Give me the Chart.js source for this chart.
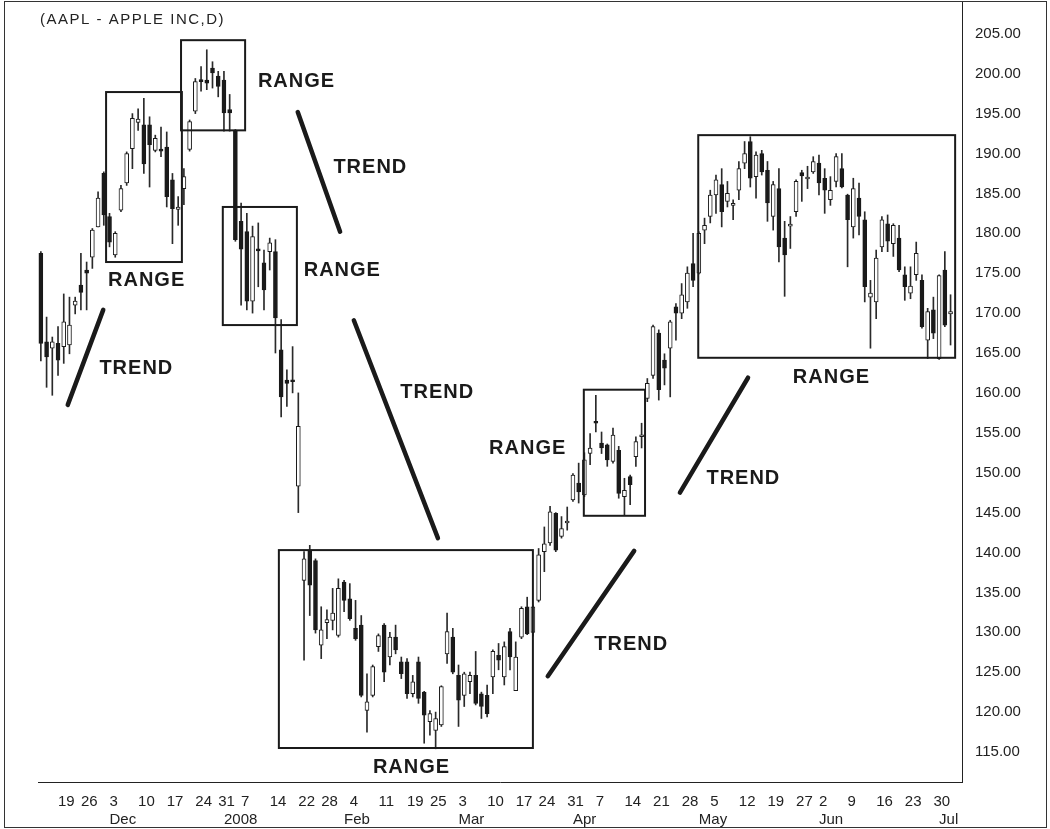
<!DOCTYPE html>
<html>
<head>
<meta charset="utf-8">
<script src="https://cdn.jsdelivr.net/npm/chart.js@4/dist/chart.umd.min.js"></script>
<style>
  html, body { margin: 0; padding: 0; background: #fff; }
  #wrap { width: 1050px; height: 829px; }
</style>
</head>
<body>
<div id="wrap"><canvas id="aaplChart" width="1050" height="829"></canvas></div>
<script>
// Trading days, AAPL daily (Nov 14 2007 - Jul 3 2008)
const dates = [
  '2007-11-14','2007-11-15','2007-11-16','2007-11-19','2007-11-20','2007-11-21','2007-11-23','2007-11-26','2007-11-27','2007-11-28','2007-11-29','2007-11-30',
  '2007-12-03','2007-12-04','2007-12-05','2007-12-06','2007-12-07','2007-12-10','2007-12-11','2007-12-12','2007-12-13','2007-12-14',
  '2007-12-17','2007-12-18','2007-12-19','2007-12-20','2007-12-21','2007-12-24','2007-12-26','2007-12-27','2007-12-28','2007-12-31',
  '2008-01-02','2008-01-03','2008-01-04','2008-01-07','2008-01-08','2008-01-09','2008-01-10','2008-01-11','2008-01-14','2008-01-15',
  '2008-01-16','2008-01-17','2008-01-18','2008-01-22','2008-01-23','2008-01-24','2008-01-25','2008-01-28','2008-01-29','2008-01-30','2008-01-31',
  '2008-02-01','2008-02-04','2008-02-05','2008-02-06','2008-02-07','2008-02-08','2008-02-11','2008-02-12','2008-02-13','2008-02-14',
  '2008-02-15','2008-02-19','2008-02-20','2008-02-21','2008-02-22','2008-02-25','2008-02-26','2008-02-27','2008-02-28','2008-02-29',
  '2008-03-03','2008-03-04','2008-03-05','2008-03-06','2008-03-07','2008-03-10','2008-03-11','2008-03-12','2008-03-13','2008-03-14',
  '2008-03-17','2008-03-18','2008-03-19','2008-03-20','2008-03-24','2008-03-25','2008-03-26','2008-03-27','2008-03-28','2008-03-31',
  '2008-04-01','2008-04-02','2008-04-03','2008-04-04','2008-04-07','2008-04-08','2008-04-09','2008-04-10','2008-04-11','2008-04-14',
  '2008-04-15','2008-04-16','2008-04-17','2008-04-18','2008-04-21','2008-04-22','2008-04-23','2008-04-24','2008-04-25','2008-04-28',
  '2008-04-29','2008-04-30','2008-05-01','2008-05-02','2008-05-05','2008-05-06','2008-05-07','2008-05-08','2008-05-09','2008-05-12',
  '2008-05-13','2008-05-14','2008-05-15','2008-05-16','2008-05-19','2008-05-20','2008-05-21','2008-05-22','2008-05-23','2008-05-27',
  '2008-05-28','2008-05-29','2008-05-30','2008-06-02','2008-06-03','2008-06-04','2008-06-05','2008-06-06','2008-06-09','2008-06-10',
  '2008-06-11','2008-06-12','2008-06-13','2008-06-16','2008-06-17','2008-06-18','2008-06-19','2008-06-20','2008-06-23','2008-06-24',
  '2008-06-25','2008-06-26','2008-06-27','2008-06-30','2008-07-01','2008-07-02','2008-07-03'
];

const opens = [
  177.5,166.4,165.6,166.2,165.8,166.0,171.0,173.5,175.4,177.0,180.8,187.5,
  182.1,177.3,182.9,186.3,190.6,193.9,193.6,193.6,190.4,190.5,
  190.8,186.7,183.0,185.6,190.5,195.3,199.2,199.2,200.7,199.7,
  199.2,195.5,192.8,181.5,180.2,171.5,178.0,176.3,177.7,177.7,
  165.4,161.6,161.6,148.3,136.5,140.3,139.0,128.4,131.2,131.5,129.6,
  136.3,134.2,130.5,130.9,120.2,122.1,128.2,130.9,126.9,129.4,
  126.3,126.3,122.3,126.3,122.5,118.8,117.7,118.4,127.3,129.4,
  124.6,122.1,123.8,124.6,122.3,122.1,124.4,127.1,124.4,130.1,
  122.7,129.4,133.2,130.0,134.0,140.1,141.2,144.9,142.0,143.7,
  146.6,148.7,147.2,152.4,156.4,153.7,153.5,151.4,152.8,147.0,
  149.5,152.0,154.5,159.3,162.2,167.5,164.1,165.6,170.8,170.0,
  171.4,176.2,175.0,180.4,182.1,184.8,186.1,184.0,183.5,185.4,
  188.8,191.5,187.1,190.0,187.9,182.1,185.6,179.4,180.9,182.7,
  187.6,186.8,187.7,188.8,186.9,184.2,186.5,188.1,184.8,180.8,
  184.4,181.7,172.0,171.4,178.3,181.2,178.7,179.4,174.8,172.5,
  174.8,174.1,166.6,170.4,164.3,175.4,169.9
];
const highs = [
  177.7,169.5,167.0,168.3,172.4,172.0,172.0,177.5,176.4,180.6,185.2,187.7,
  182.5,180.2,186.0,190.2,195.0,195.6,196.9,194.6,192.3,193.3,
  192.7,187.5,184.6,188.1,194.2,199.4,200.9,203.0,201.5,200.3,
  200.3,197.4,193.0,183.8,182.5,180.9,181.3,177.9,179.4,179.2,
  169.2,162.9,165.8,160.0,140.1,140.9,139.2,133.2,132.8,135.5,136.7,
  136.5,136.1,134.0,132.1,124.8,125.9,129.8,131.1,130.0,130.9,
  126.9,126.7,124.6,126.9,122.6,120.2,120.0,123.3,132.4,130.5,
  125.9,125.0,125.0,127.6,122.5,123.4,127.8,128.6,128.8,130.5,
  128.8,133.2,134.4,133.4,140.5,143.2,145.8,145.0,144.5,145.7,
  149.9,151.2,152.5,154.9,159.7,155.1,153.6,155.6,153.3,149.3,
  149.7,154.5,156.2,161.8,168.5,167.9,164.9,169.1,171.2,173.7,
  175.8,180.0,180.2,181.9,185.4,187.3,188.1,186.5,184.2,189.0,
  191.5,192.1,190.2,190.4,189.0,186.5,188.1,181.5,182.1,186.7,
  187.9,188.4,189.6,189.8,188.1,187.1,190.0,190.0,184.9,186.9,
  186.3,182.7,174.1,177.9,182.1,182.3,181.2,181.0,175.8,175.8,
  178.9,174.8,170.6,172.0,174.8,177.7,172.3
];
const lows = [
  164.0,160.7,159.7,162.2,163.7,164.9,169.9,170.4,170.4,175.6,180.8,181.0,
  178.3,177.0,182.7,186.0,188.1,192.9,187.5,185.8,190.2,189.6,
  183.3,178.7,181.0,183.6,190.3,195.0,197.8,198.0,198.2,197.1,
  192.8,192.8,179.0,171.0,170.4,170.0,173.3,170.4,175.4,165.0,
  157.0,158.3,160.0,145.0,126.5,132.1,129.9,126.7,129.2,130.3,129.4,
  132.6,131.5,129.0,121.9,117.5,121.9,127.6,123.8,125.9,127.3,
  124.2,121.7,121.9,121.1,116.1,117.1,115.4,118.2,126.1,124.8,
  118.2,120.7,122.3,120.9,119.2,119.4,122.3,125.3,123.4,125.3,
  122.7,129.2,129.7,129.5,133.8,137.6,140.9,140.1,141.8,142.8,
  146.4,146.2,147.0,151.0,155.1,152.4,150.8,151.2,146.8,144.7,
  146.0,150.8,153.1,158.9,161.8,159.1,161.0,159.5,166.6,169.3,
  170.6,173.3,174.9,178.7,181.3,182.5,180.8,183.3,181.7,184.2,
  188.1,185.8,184.4,187.3,181.5,180.4,176.4,172.1,178.1,182.1,
  184.0,185.6,187.5,184.8,182.5,183.5,185.8,185.7,175.8,179.4,
  179.8,171.4,165.6,169.3,177.7,177.7,177.1,175.2,171.6,171.8,
  174.1,168.1,164.3,166.8,164.2,168.3,166.0
];
const closes = [
  166.2,164.5,166.4,164.1,168.9,168.5,171.5,172.6,175.0,180.4,184.4,182.3,
  178.9,180.0,185.6,190.0,194.4,194.3,188.7,191.1,191.9,190.3,
  184.6,183.1,183.3,187.1,194.0,199.0,199.0,198.8,200.1,198.4,
  195.1,195.1,179.2,178.0,171.5,179.6,177.8,172.9,178.8,169.4,
  159.5,161.2,161.4,155.8,139.2,135.9,130.3,130.3,131.6,132.4,135.5,
  134.0,131.7,129.2,122.1,121.3,125.7,129.6,125.0,129.4,127.8,
  124.8,122.3,123.8,121.7,119.6,119.8,119.2,123.2,130.1,125.0,
  121.5,124.8,124.6,121.1,120.7,119.8,127.6,126.5,128.2,126.9,
  126.9,133.0,129.8,133.2,139.7,141.1,145.1,140.3,143.0,143.8,
  149.7,147.6,151.6,153.1,156.2,153.1,151.6,154.7,147.4,147.8,
  148.5,153.9,154.6,161.2,168.3,160.4,163.1,168.9,170.0,172.3,
  175.0,174.1,180.0,181.0,184.8,186.7,182.7,185.0,183.6,188.1,
  190.0,186.9,189.8,187.7,183.8,186.1,178.3,177.3,181.1,186.5,
  187.2,187.0,189.0,186.3,185.4,185.4,189.6,185.8,181.7,185.6,
  182.1,173.3,172.5,176.9,181.7,179.0,181.0,175.4,173.3,173.4,
  177.5,168.3,170.2,167.5,174.7,168.5,170.2
];

// Axis ticks
const weekTickDates = [
  '2007-11-19','2007-11-26','2007-12-03','2007-12-10','2007-12-17','2007-12-24','2007-12-31',
  '2008-01-07','2008-01-14','2008-01-22','2008-01-28','2008-02-04','2008-02-11','2008-02-19','2008-02-25',
  '2008-03-03','2008-03-10','2008-03-17','2008-03-24','2008-03-31','2008-04-07','2008-04-14','2008-04-21','2008-04-28',
  '2008-05-05','2008-05-12','2008-05-19','2008-05-27','2008-06-02','2008-06-09','2008-06-16','2008-06-23','2008-06-30'
];
const weekTickLabels = ['19','26','3','10','17','24','31','7','14','22','28','4','11','19','25',
  '3','10','17','24','31','7','14','21','28','5','12','19','27','2','9','16','23','30'];
const monthTickDates = ['2007-12-03','2008-01-02','2008-02-01','2008-03-03','2008-04-01','2008-05-01','2008-06-02','2008-07-01'];
const monthTickLabels = ['Dec','2008','Feb','Mar','Apr','May','Jun','Jul'];
const priceTicks = [115,120,125,130,135,140,145,150,155,160,165,170,175,180,185,190,195,200,205];

// Annotations in data units: [first day index, last day index, top price, bottom price]
const rangeBoxes = [
  [11.4, 24.65, 197.7, 176.4],
  [24.5, 35.7, 204.2, 192.9],
  [31.8, 44.75, 183.3, 168.5],
  [41.6, 86.0, 140.3, 115.5],
  [94.9, 105.6, 160.4, 144.6],
  [114.9, 159.8, 192.3, 164.4]
];
// [day index, price] -> [day index, price]
const trendLines = [
  [4.7, 158.5, 10.9, 170.4],
  [44.9, 195.2, 52.3, 180.2],
  [54.7, 169.1, 69.4, 141.8],
  [88.6, 124.5, 103.7, 140.2],
  [111.7, 147.5, 123.6, 161.9]
];
const noteTexts = ['RANGE','TREND','RANGE','TREND','RANGE','TREND','RANGE','RANGE','TREND','TREND','RANGE'];
const noteDays = [18.4, 16.6, 44.6, 57.5, 52.6, 69.2, 64.7, 85.0, 103.1, 122.7, 138.1];
const notePrices = [174.1, 163.1, 199.0, 188.2, 175.4, 160.1, 113.1, 153.0, 128.5, 149.3, 161.9];

const INK = '#1a1a1a';
const FONT = '"Liberation Sans", Arial, Helvetica, sans-serif';

/**
 * Build x tick labels keyed by day index (week on line 1, month on line 2)
 */
function buildXTicks() {
  const map = new Map();
  weekTickDates.forEach((d, i) => {
    map.set(dates.indexOf(d), [weekTickLabels[i], '']);
  });
  monthTickDates.forEach((d, i) => {
    const idx = dates.indexOf(d);
    const cur = map.get(idx) || ['', ''];
    cur[1] = monthTickLabels[i];
    map.set(idx, cur);
  });
  return map;
}
const xTickMap = buildXTicks();

/**
 * Boxes, trend lines, notes, title and frame
 */
const overlayPlugin = {
  id: 'overlay',
  afterDatasetsDraw(chart) {
    const { ctx, scales: { x, y } } = chart;
    ctx.save();
    ctx.strokeStyle = INK;
    ctx.lineWidth = 2;
    rangeBoxes.forEach(b => {
      const x0 = x.getPixelForValue(b[0]), x1 = x.getPixelForValue(b[1]);
      const y0 = y.getPixelForValue(b[2]), y1 = y.getPixelForValue(b[3]);
      ctx.strokeRect(x0, y0, x1 - x0, y1 - y0);
    });

    ctx.lineWidth = 4.5;
    ctx.lineCap = 'round';
    trendLines.forEach(t => {
      ctx.beginPath();
      ctx.moveTo(x.getPixelForValue(t[0]), y.getPixelForValue(t[1]));
      ctx.lineTo(x.getPixelForValue(t[2]), y.getPixelForValue(t[3]));
      ctx.stroke();
    });

    ctx.fillStyle = INK;
    ctx.font = 'bold 20px ' + FONT;
    ctx.letterSpacing = '1px';
    ctx.textAlign = 'center';
    ctx.textBaseline = 'middle';
    noteTexts.forEach((txt, i) => {
      ctx.fillText(txt, x.getPixelForValue(noteDays[i]) + 0.5, y.getPixelForValue(notePrices[i]));
    });

    ctx.font = '15px ' + FONT;
    ctx.letterSpacing = '1.5px';
    ctx.textAlign = 'left';
    ctx.fillStyle = '#222';
    ctx.fillText('(AAPL - APPLE INC,D)', chart.chartArea.left + 2, chart.chartArea.top + 19);
    ctx.restore();
  },
  afterDraw(chart) {
    const ctx = chart.ctx;
    ctx.save();
    ctx.strokeStyle = '#333';
    ctx.lineWidth = 1;
    ctx.strokeRect(4.5, 1.5, 1042, 826);
    ctx.restore();
  }
};

const bodyData = dates.map((d, i) => ({ x: i, y: [opens[i], closes[i]] }));
const wickData = dates.map((d, i) => ({ x: i, y: [lows[i], highs[i]] }));

new Chart(document.getElementById('aaplChart'), {
  type: 'bar',
  data: {
    datasets: [
      {
        label: 'Body',
        data: bodyData,
        backgroundColor: c => (closes[c.dataIndex] >= opens[c.dataIndex] ? '#fff' : INK),
        borderColor: INK,
        borderWidth: 1,
        borderSkipped: false,
        barThickness: 4,
        minBarLength: 2,
        grouped: false,
        order: 0
      },
      {
        label: 'Wick',
        data: wickData,
        backgroundColor: '#2a2a2a',
        borderWidth: 0,
        barThickness: 1,
        grouped: false,
        order: 1
      }
    ]
  },
  options: {
    responsive: false,
    animation: false,
    layout: { padding: { left: 38, top: 1, right: 0, bottom: 0 } },
    plugins: { legend: { display: false }, tooltip: { enabled: false } },
    scales: {
      x: {
        type: 'linear',
        min: -0.5,
        max: 161,
        offset: false,
        grid: { display: false },
        border: { display: true, color: '#222', width: 1 },
        afterBuildTicks: axis => {
          axis.ticks = [...xTickMap.keys()].sort((a, b) => a - b).map(v => ({ value: v }));
        },
        afterFit: axis => {
          axis.height = 47;
          axis.paddingLeft = 0;
          axis.paddingRight = 0;
        },
        ticks: {
          autoSkip: false,
          maxRotation: 0,
          align: 'start',
          padding: 3,
          color: '#222',
          font: { family: FONT, size: 15, lineHeight: 1.2 },
          callback: v => xTickMap.get(v) || ''
        }
      },
      y: {
        position: 'right',
        min: 111.24,
        max: 209.11,
        grid: { display: false },
        border: { display: true, color: '#222', width: 1 },
        afterBuildTicks: axis => {
          axis.ticks = priceTicks.map(v => ({ value: v }));
        },
        afterFit: axis => {
          axis.width = 88;
          axis.paddingTop = 0;
          axis.paddingBottom = 0;
        },
        ticks: {
          padding: 5,
          color: '#222',
          font: { family: FONT, size: 15 },
          callback: v => v.toFixed(2)
        }
      }
    }
  },
  plugins: [overlayPlugin]
});
</script>
</body>
</html>
